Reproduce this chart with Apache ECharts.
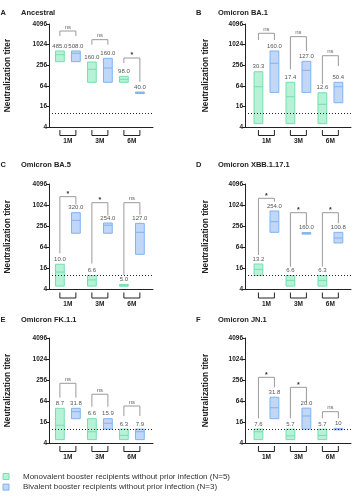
<!DOCTYPE html>
<html>
<head>
<meta charset="utf-8">
<style>
  html, body { margin: 0; padding: 0; background: #fff; }
  #chart { width: 354px; height: 500px; }
</style>
<script src="https://cdn.jsdelivr.net/npm/echarts@6/dist/echarts.min.js"></script>
</head>
<body>
<div id="chart"></div>
<script>
// time points after booster
const groups = ['1M', '3M', '6M']
const yTicks = [4, 16, 64, 256, 1024, 4096]
const lod = 10 // limit of detection (dotted line)

const monoName = 'Monovalent booster recipients without prior infection (N=5)'
const bivName = 'Bivalent booster recipients without prior infection (N=3)'
const letters = ['A', 'B', 'C', 'D', 'E', 'F']
const titles = ['Ancestral', 'Omicron BA.1', 'Omicron BA.5', 'Omicron XBB.1.17.1', 'Omicron FK.1.1', 'Omicron JN.1']

// each row: [min, median, max] per time point
// bracket rows: [top, left leg end, right leg end]
const monoA = [[324, 519, 666], [81, 194, 318], [81, 99, 121]]
const bivA = [[324, 570, 666], [81, 212, 407], [40, 40, 40]]
const gmtMonoA = ['485.0', '160.0', '98.0']
const gmtBivA = ['508.0', '160.0', '40.0']
const sigA = ['ns', 'ns', '*']
const bracketA = [[2556, 1822, 1822], [1428, 1017, 1017], [416, 297, 84]]

const monoB = [[5, 60, 165], [5, 30.7, 81], [5, 18.4, 40]]
const bivB = [[41, 291, 666], [41, 181, 333], [20.5, 60, 81]]
const gmtMonoB = ['30.3', '17.4', '12.6']
const gmtBivB = ['160.0', '127.0', '50.4']
const sigB = ['ns', 'ns', 'ns']
const bracketB = [[2195, 1396, 1396], [1746, 194, 666], [485, 71, 242]]

const monoC = [[5, 12.6, 21], [5, 7.5, 10], [5, 5, 5.3]]
const bivC = [[161, 377, 621], [161, 272, 316], [40.4, 171, 309]]
const gmtMonoC = ['10.0', '6.6', '5.0']
const gmtBivC = ['320.0', '254.0', '127.0']
const sigC = ['*', '*', 'ns']
const bracketC = [[1783, 43, 1080], [1200, 22, 512], [1200, 10.4, 545]]

const monoD = [[10, 15, 21.4], [5, 7.3, 10], [5, 7.3, 10]]
const bivD = [[171, 344, 695], [160, 160, 160], [85, 118, 171]]
const gmtMonoD = ['13.2', '6.6', '6.3']
const gmtBivD = ['254.0', '160.0', '100.8']
const sigD = ['*', '*', '*']
const bracketD = [[1600, 38.6, 1280], [621, 17.9, 277], [621, 17.9, 309]]

const monoE = [[5, 12.9, 39.5], [5, 8.4, 19.9], [5, 6.6, 10]]
const bivE = [[19.9, 31.6, 39.5], [10, 14.7, 19.9], [5, 8.4, 10]]
const gmtMonoE = ['8.7', '6.6', '6.3']
const gmtBivE = ['31.8', '15.9', '7.9']
const sigE = ['ns', 'ns', 'ns']
const bracketE = [[206, 80, 80], [100, 44, 44], [46, 23.8, 23.8]]

const monoF = [[5, 8.4, 10], [5, 6.4, 10], [5, 6.6, 10]]
const bivF = [[19.9, 41, 82], [10, 23.8, 40], [10, 10, 10]]
const gmtMonoF = ['7.6', '5.7', '5.7']
const gmtBivF = ['31.8', '20.0', '10']
const sigF = ['*', '*', 'ns']
const bracketF = [[306, 20.4, 158], [158, 20.4, 57], [31.6, 20.4, 20.4]]

const panels = [
  { mono: monoA, biv: bivA, gMono: gmtMonoA, gBiv: gmtBivA, sig: sigA, br: bracketA },
  { mono: monoB, biv: bivB, gMono: gmtMonoB, gBiv: gmtBivB, sig: sigB, br: bracketB },
  { mono: monoC, biv: bivC, gMono: gmtMonoC, gBiv: gmtBivC, sig: sigC, br: bracketC },
  { mono: monoD, biv: bivD, gMono: gmtMonoD, gBiv: gmtBivD, sig: sigD, br: bracketD },
  { mono: monoE, biv: bivE, gMono: gmtMonoE, gBiv: gmtBivE, sig: sigE, br: bracketE },
  { mono: monoF, biv: bivF, gMono: gmtMonoF, gBiv: gmtBivF, sig: sigF, br: bracketF }
]

// panel placement
const layout = [
  { left: 49, top: 24, width: 104, height: 103, xMin: 0.32, xMax: 6.82, nameGap: 37, titleTop: 9 },
  { left: 245, top: 24, width: 106, height: 103, xMin: 0.16, xMax: 6.79, nameGap: 35, titleTop: 9 },
  { left: 49, top: 184, width: 104, height: 105.5, xMin: 0.32, xMax: 6.82, nameGap: 37, titleTop: 160.5 },
  { left: 245, top: 184, width: 106, height: 105.5, xMin: 0.16, xMax: 6.79, nameGap: 35, titleTop: 160.5 },
  { left: 49, top: 338, width: 104, height: 105, xMin: 0.32, xMax: 6.82, nameGap: 37, titleTop: 315.5 },
  { left: 245, top: 338, width: 106, height: 105, xMin: 0.16, xMax: 6.79, nameGap: 35, titleTop: 315.5 }
]

const font = '"Liberation Sans", Arial, sans-serif'
const green = { fill: '#b6f2d6', line: '#74e0b0' }
const blue = { fill: '#c0d7f7', line: '#82b2ef' }
const ink = '#222'

function boxItem (labels, col) {
  return function (params, api) {
    const x = api.value(0)
    const lo = api.coord([x, api.value(1)])
    const md = api.coord([x, api.value(2)])
    const hi = api.coord([x, api.value(3)])
    const w = api.size([0.55, 0])[0]
    let top = hi[1]
    let h = lo[1] - hi[1]
    if (h < 1.5) { // flat bar: all values equal
      top -= 0.75
      h = 1.5
    }
    return {
      type: 'group',
      children: [
        { type: 'rect', shape: { x: lo[0] - w / 2, y: top, width: w, height: h }, style: { fill: col.fill, stroke: col.line, lineWidth: 1 } },
        { type: 'line', shape: { x1: lo[0] - w / 2, y1: md[1], x2: lo[0] + w / 2, y2: md[1] }, style: { stroke: col.line, lineWidth: 1 } },
        { type: 'text', style: { text: labels[params.dataIndex], x: lo[0], y: top - 2, align: 'center', verticalAlign: 'bottom', fontSize: 6, fontFamily: font, fill: '#555' } }
      ]
    }
  }
}

function bracketItem (sig) {
  return function (params, api) {
    const x1 = api.value(0)
    const x2 = api.value(1)
    const a = api.coord([x1, api.value(3)])
    const t1 = api.coord([x1, api.value(2)])
    const t2 = api.coord([x2, api.value(2)])
    const b = api.coord([x2, api.value(4)])
    const s = sig[params.dataIndex]
    const star = s === '*'
    return {
      type: 'group',
      children: [
        { type: 'polyline', shape: { points: [a, t1, t2, b] }, style: { stroke: '#9a9a9a', lineWidth: 1, fill: null } },
        {
          type: 'text',
          style: {
            text: s, x: (t1[0] + t2[0]) / 2, y: t1[1] - (star ? -1 : 1), align: 'center', verticalAlign: 'bottom',
            fontSize: star ? 7 : 6, fontWeight: star ? 'bold' : 'normal', fontFamily: font, fill: star ? '#333' : '#666'
          }
        }
      ]
    }
  }
}

function groupItem (params, api) {
  const p1 = api.coord([api.value(0), 2])
  const p2 = api.coord([api.value(1), 2])
  const y = p1[1]
  return {
    type: 'group',
    children: [
      { type: 'polyline', shape: { points: [[p1[0], y + 3], [p1[0], y + 8.5], [p2[0], y + 8.5], [p2[0], y + 3]] }, style: { stroke: ink, lineWidth: 1, fill: null } },
      { type: 'text', style: { text: groups[params.dataIndex], x: (p1[0] + p2[0]) / 2, y: y + 14.5, align: 'center', verticalAlign: 'middle', fontSize: 6.5, fontWeight: 'bold', fontFamily: font, fill: ink } }
    ]
  }
}

const grid = []
const xAxis = []
const yAxis = []
const series = []
const title = []

panels.forEach((p, k) => {
  const L = layout[k]
  grid.push({ left: L.left, top: L.top, width: L.width, height: L.height })
  xAxis.push({
    gridIndex: k,
    type: 'value',
    min: L.xMin,
    max: L.xMax,
    axisLine: { onZero: false, lineStyle: { color: ink, width: 1 } },
    axisTick: { show: false },
    axisLabel: { show: false },
    splitLine: { show: false }
  })
  yAxis.push({
    gridIndex: k,
    type: 'value',
    min: 2,
    max: 12,
    interval: 2,
    name: 'Neutralization titer',
    nameLocation: 'middle',
    nameGap: L.nameGap,
    nameTextStyle: { fontSize: 8.4, fontWeight: 'bold', color: ink, fontFamily: font },
    axisLine: { show: true, onZero: false, lineStyle: { color: ink, width: 1 } },
    axisTick: { show: true, length: 3, lineStyle: { color: ink } },
    axisLabel: { fontSize: 6.5, fontWeight: 'bold', color: ink, margin: 2, fontFamily: font, formatter: v => yTicks[(v - 2) / 2] },
    splitLine: { show: false }
  })

  series.push({
    type: 'custom',
    name: monoName,
    xAxisIndex: k,
    yAxisIndex: k,
    z: 3,
    itemStyle: { color: green.fill, borderColor: green.line },
    encode: { x: 0, y: [1, 2, 3] },
    data: p.mono.map((r, i) => [2 * i + 1, Math.log2(r[0]), Math.log2(r[1]), Math.log2(r[2])]),
    renderItem: boxItem(p.gMono, green)
  })
  series.push({
    type: 'custom',
    name: bivName,
    xAxisIndex: k,
    yAxisIndex: k,
    z: 3,
    itemStyle: { color: blue.fill, borderColor: blue.line },
    encode: { x: 0, y: [1, 2, 3] },
    data: p.biv.map((r, i) => [2 * i + 2, Math.log2(r[0]), Math.log2(r[1]), Math.log2(r[2])]),
    renderItem: boxItem(p.gBiv, blue)
  })
  series.push({
    type: 'custom',
    xAxisIndex: k,
    yAxisIndex: k,
    silent: true,
    encode: { x: [0, 1], y: [2, 3, 4] },
    data: p.br.map((b, i) => [2 * i + 1, 2 * i + 2, Math.log2(b[0]), Math.log2(b[1]), Math.log2(b[2])]),
    renderItem: bracketItem(p.sig),
    markLine: {
      silent: true,
      symbol: 'none',
      label: { show: false },
      lineStyle: { color: ink, width: 1, type: [1, 2] },
      data: [{ yAxis: Math.log2(lod) }]
    }
  })
  series.push({
    type: 'custom',
    xAxisIndex: k,
    yAxisIndex: k,
    silent: true,
    clip: false,
    encode: { x: [0, 1] },
    data: groups.map((g, i) => [2 * i + 1, 2 * i + 2]),
    renderItem: groupItem
  })

  title.push({ text: letters[k], left: k % 2 ? 196 : 0.5, top: L.titleTop, padding: 0, textStyle: { fontSize: 7.5, fontWeight: 'bold', color: ink, fontFamily: font } })
  title.push({ text: titles[k], left: k % 2 ? 218 : 21, top: L.titleTop, padding: 0, textStyle: { fontSize: 7.5, fontWeight: 'bold', color: ink, fontFamily: font } })
})

const chart = echarts.init(document.getElementById('chart'), null, { renderer: 'canvas' })
chart.setOption({
  animation: false,
  textStyle: { fontFamily: font },
  title: title,
  legend: {
    orient: 'vertical',
    left: 2.5,
    top: 471.5,
    padding: 0,
    itemWidth: 6,
    itemHeight: 6,
    itemGap: 0.6,
    icon: 'rect',
    selectedMode: false,
    textStyle: { fontSize: 8, color: '#333', lineHeight: 10, padding: [0, 0, 0, 9], fontFamily: font },
    data: [
      { name: monoName, itemStyle: { color: green.fill, borderColor: green.line, borderWidth: 1 } },
      { name: bivName, itemStyle: { color: blue.fill, borderColor: blue.line, borderWidth: 1 } }
    ]
  },
  grid: grid,
  xAxis: xAxis,
  yAxis: yAxis,
  series: series
})
</script>
</body>
</html>
